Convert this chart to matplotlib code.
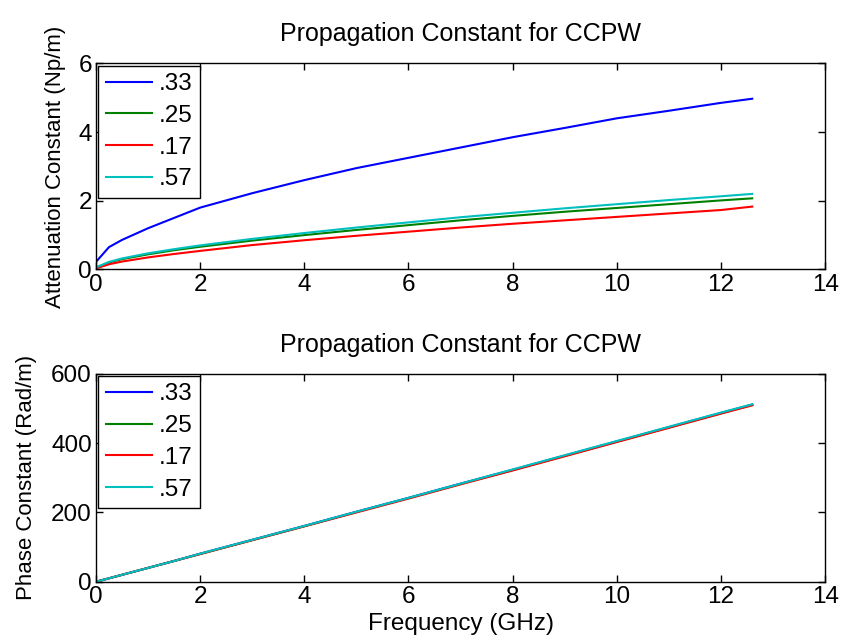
import numpy as np
import matplotlib
matplotlib.use('Agg')
import matplotlib.pyplot as plt

plt.rcParams['font.family'] = ['Liberation Sans', 'DejaVu Sans']
plt.rcParams['font.size'] = 17.5

# Frequency samples (GHz)
freq = [0, 0.25, 0.5, 1, 1.5, 2, 3, 4, 5, 6, 7, 8, 9, 10, 11, 12, 12.6]

# Attenuation constant (Np/m) for each width ratio
atten_33 = [0.22, 0.65, 0.86, 1.2, 1.5, 1.8, 2.22, 2.6, 2.95, 3.25, 3.55, 3.85, 4.12, 4.4, 4.62, 4.85, 4.97]
atten_25 = [0.05, 0.2, 0.3, 0.44, 0.56, 0.66, 0.84, 1.0, 1.15, 1.29, 1.43, 1.56, 1.68, 1.79, 1.9, 2.01, 2.07]
atten_17 = [0.03, 0.15, 0.23, 0.35, 0.45, 0.54, 0.71, 0.85, 0.98, 1.1, 1.22, 1.33, 1.43, 1.53, 1.63, 1.73, 1.83]
atten_57 = [0.06, 0.22, 0.32, 0.47, 0.59, 0.7, 0.89, 1.06, 1.22, 1.37, 1.52, 1.65, 1.78, 1.9, 2.02, 2.13, 2.2]

# Phase constant (Rad/m) for each width ratio
phase_33 = [0, 10, 20, 40, 60, 81, 121, 161, 202, 242, 283, 323, 364, 405, 446, 487, 511]
phase_25 = [0, 10, 20, 40, 60, 80, 120, 160, 201, 241, 282, 322, 363, 404, 445, 486, 510]
phase_17 = [0, 10, 20, 40, 60, 80, 120, 160, 200, 240, 281, 321, 362, 403, 444, 485, 509]
phase_57 = [0, 10, 20, 40, 60, 81, 121, 161, 202, 242, 283, 324, 365, 406, 447, 488, 512]

labels = ['.33', '.25', '.17', '.57']
colors = ['#0000ff', '#008000', '#ff0000', '#00bfbf']


def style_axes(ax, ylim, yticks):
    ax.set_xlim(0, 14)
    ax.set_ylim(*ylim)
    ax.set_xticks(range(0, 15, 2))
    ax.set_yticks(yticks)
    ax.tick_params(direction='in', top=True, right=True, length=5, width=1, pad=3)
    for s in ax.spines.values():
        s.set_linewidth(1)


fig = plt.figure(figsize=(8.42, 6.4), dpi=100)
ax1 = fig.add_axes([0.114, 0.579, 0.866, 0.322])
ax2 = fig.add_axes([0.114, 0.091, 0.866, 0.325])

for y, lab, c in zip([atten_33, atten_25, atten_17, atten_57], labels, colors):
    ax1.plot(freq, y, color=c, lw=1.5, label=lab)
style_axes(ax1, (0, 6), [0, 2, 4, 6])
ax1.set_title('Propagation Constant for CCPW', fontsize=18, pad=16)
ax1.set_ylabel('Attenuation Constant (Np/m)', fontsize=16, labelpad=9)

for y, lab, c in zip([phase_33, phase_25, phase_17, phase_57], labels, colors):
    ax2.plot(freq, y, color=c, lw=1.5, label=lab)
style_axes(ax2, (0, 600), [0, 200, 400, 600])
ax2.set_title('Propagation Constant for CCPW', fontsize=18, pad=16)
ax2.set_ylabel('Phase Constant (Rad/m)', fontsize=16, labelpad=10)
ax2.set_xlabel('Frequency (GHz)', labelpad=4)

for ax in (ax1, ax2):
    leg = ax.legend(loc='upper left', fancybox=False, framealpha=1, edgecolor='black',
                    borderaxespad=0.1, handlelength=1.9, handletextpad=0.3,
                    labelspacing=0.4, borderpad=0.3)
    leg.get_frame().set_linewidth(1)

fig.savefig('out.png', dpi=100)
